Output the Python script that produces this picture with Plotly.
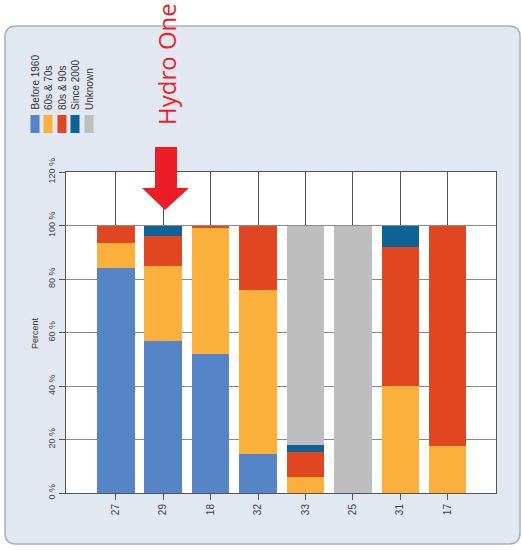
import plotly.graph_objects as go

# ---- data ----
categories = ["27", "29", "18", "32", "33", "25", "31", "17"]
before_1960 = [84.0, 57.0, 52.0, 14.5, 0.0, 0.0, 0.0, 0.0]
s60s_70s = [9.6, 28.0, 47.0, 61.3, 6.0, 0.0, 40.0, 17.6]
s80s_90s = [6.4, 11.0, 1.0, 24.2, 9.5, 0.0, 52.0, 82.4]
since_2000 = [0.0, 4.0, 0.0, 0.0, 2.5, 0.0, 8.0, 0.0]
unknown = [0.0, 0.0, 0.0, 0.0, 82.0, 100.0, 0.0, 0.0]
series_names = ["Before 1960", "60s & 70s", "80s & 90s", "Since 2000", "Unknown"]
series_values = [before_1960, s60s_70s, s80s_90s, since_2000, unknown]
series_colors = ["#5585c7", "#fbb03b", "#e0461f", "#0d6395", "#bebebe"]
y_tick_vals = [0, 20, 40, 60, 80, 100, 120]
y_tick_text = ["0 %", "20 %", "40 %", "60 %", "80 %", "100 %", "120 %"]
highlight_label = "Hydro One"
highlight_category = "29"

W, H = 522, 550
L, R, T, B = 66, 26, 172, 57
PW, PH = W - L - R, H - T - B


def fx(px):
    return (px - L) / PW


def fy(py):
    return (H - B - py) / PH


fig = go.Figure()
for name, vals, col in zip(series_names, series_values, series_colors):
    fig.add_trace(go.Bar(x=categories, y=vals, name=name, marker_color=col,
                         marker_line_width=0, width=0.79, showlegend=False))

shapes = []
# background panel (rounded)
x0, y0, x1, y1 = fx(5), fy(26), fx(520), fy(544)
rx, ry = 11 / PW, 11 / PH
panel = (f"M {x0+rx} {y0} L {x1-rx} {y0} Q {x1} {y0} {x1} {y0-ry} "
         f"L {x1} {y1+ry} Q {x1} {y1} {x1-rx} {y1} L {x0+rx} {y1} "
         f"Q {x0} {y1} {x0} {y1+ry} L {x0} {y0-ry} Q {x0} {y0} {x0+rx} {y0} Z")
shapes.append(dict(type="path", path=panel, xref="paper", yref="paper",
                   fillcolor="#e1e8f2", line=dict(color="#a8b0bb", width=1.5),
                   layer="below"))
# white plot area
shapes.append(dict(type="rect", x0=0, x1=1, y0=0, y1=1, xref="paper", yref="paper",
                   fillcolor="white", line_width=0, layer="below"))
# red block arrow
pts = [(155, 147), (177, 147), (177, 188), (189, 188), (165, 210), (142, 188), (155, 188)]
arrow = "M " + " L ".join(f"{fx(a)} {fy(b)}" for a, b in pts) + " Z"
shapes.append(dict(type="path", path=arrow, xref="paper", yref="paper",
                   fillcolor="#ee1c25", line_width=0, layer="above"))

annotations = []
# highlight text
annotations.append(dict(text=highlight_label, x=fx(166), y=fy(127), xref="paper", yref="paper",
                        showarrow=False, textangle=-90, xanchor="center", yanchor="bottom",
                        font=dict(family="Open Sans, Liberation Sans, sans-serif", size=24,
                                  color="#ee1c25")))
# legend (rotated)
leg_x = [35, 48, 62, 75, 89]
for i, (name, col) in enumerate(zip(series_names, series_colors)):
    cx = leg_x[i]
    shapes.append(dict(type="rect", x0=fx(cx - 4.5), x1=fx(cx + 4.5), y0=fy(115), y1=fy(133),
                       xref="paper", yref="paper", fillcolor=col, line_width=0, layer="above"))
    annotations.append(dict(text=name, x=fx(cx), y=fy(112), xref="paper", yref="paper",
                            showarrow=False, textangle=-90, xanchor="center", yanchor="bottom",
                            font=dict(family="Liberation Sans Narrow, Liberation Sans, sans-serif",
                                      size=10, color="#333333")))
# y title
annotations.append(dict(text="Percent", x=fx(35), y=fy(333), xref="paper", yref="paper",
                        showarrow=False, textangle=-90, xanchor="center", yanchor="middle",
                        font=dict(family="Liberation Sans, sans-serif", size=9, color="#333333")))

fig.update_layout(
    width=W, height=H, autosize=False,
    margin=dict(l=L, r=R, t=T, b=B, pad=0),
    barmode="stack", bargap=0.21,
    paper_bgcolor="white", plot_bgcolor="rgba(0,0,0,0)",
    shapes=shapes, annotations=annotations, showlegend=False,
    font=dict(family="Liberation Sans, sans-serif", size=10, color="#444444"),
)
fig.update_xaxes(type="category", range=[-1.05, 8.02], showgrid=True, gridcolor="#555555",
                 gridwidth=1, showline=True, mirror=True, linecolor="#555555", linewidth=1,
                 ticks="outside", ticklen=6, tickcolor="#555555", tickangle=-90,
                 tickfont=dict(size=10, color="#444444"), zeroline=False)
fig.update_yaxes(range=[0, 120], tickvals=y_tick_vals, ticktext=y_tick_text, showgrid=True,
                 gridcolor="#8a8a8a", gridwidth=1, showline=True, mirror=True,
                 linecolor="#555555", linewidth=1, ticks="outside", ticklen=6,
                 tickcolor="#555555", tickangle=-90, tickfont=dict(size=9, color="#444444"),
                 zeroline=False)

fig.write_html("out.html")
